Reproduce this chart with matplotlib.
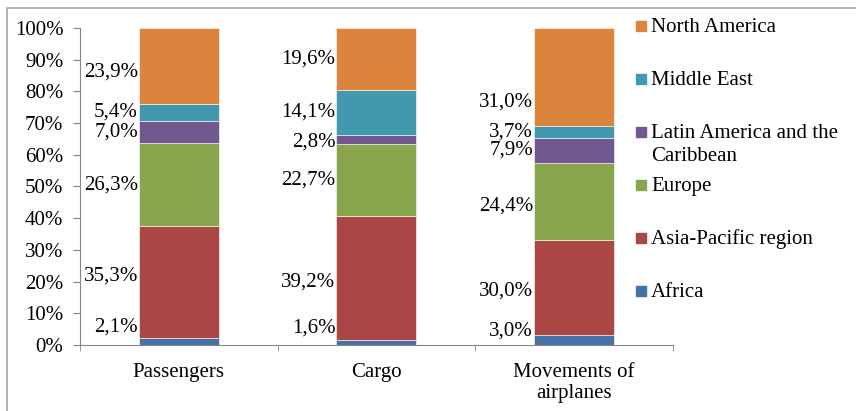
import matplotlib.pyplot as plt
from matplotlib.patches import Rectangle
import numpy as np

plt.rcParams['font.family'] = ['Liberation Serif', 'DejaVu Serif']
plt.rcParams['font.size'] = 15

categories = ['Passengers', 'Cargo', 'Movements of\nairplanes']
regions = ['Africa', 'Asia-Pacific region', 'Europe',
           'Latin America and the\nCaribbean', 'Middle East', 'North America']
africa = [2.1, 1.6, 3.0]
asia_pacific = [35.3, 39.2, 30.0]
europe = [26.3, 22.7, 24.4]
latin_america = [7.0, 2.8, 7.9]
middle_east = [5.4, 14.1, 3.7]
north_america = [23.9, 19.6, 31.0]

colors = ['#4572A7', '#AA4643', '#89A54E', '#71588F', '#4198AF', '#DB843D']
series = [africa, asia_pacific, europe, latin_america, middle_east, north_america]

# label nudges (in % units) where excel moved labels off the centre
nudge = {(0, 0): 4.5, (0, 1): 4.5, (0, 2): 3.0, (1, 0): 2.0, (1, 1): -1.5,
         (1, 2): -1.0, (5, 0): -2.0, (5, 2): -8.0, (3, 1): -1.0, (2, 2): -1.5}

fig = plt.figure(figsize=(8.56, 4.11), dpi=100)
ax = fig.add_axes([0.0935, 0.1606, 0.6925, 0.7713])

x = np.arange(len(categories))
bottom = np.zeros(len(categories))
for i, vals in enumerate(series):
    vals = np.array(vals)
    ax.bar(x, vals, 0.405, bottom=bottom, color=colors[i],
           edgecolor='white', linewidth=0.4)
    for j in range(len(categories)):
        yc = bottom[j] + vals[j] / 2 + nudge.get((i, j), 0)
        ax.text(x[j] - 0.207, yc, f'{vals[j]:.1f}%'.replace('.', ','),
                ha='right', va='center', fontsize=15)
    bottom += vals

ax.set_xlim(-0.5, len(categories) - 0.5)
ax.set_ylim(0, 100)
ax.set_yticks(np.arange(0, 101, 10))
ax.set_yticklabels([f'{v}%' for v in range(0, 101, 10)], fontsize=15)
ax.set_xticks(x)
ax.set_xticklabels(categories, fontsize=15, linespacing=1.12)
ax.set_xticks(np.arange(-0.5, len(categories), 1), minor=True)
ax.tick_params(axis='x', which='major', length=0, pad=13)
ax.tick_params(axis='x', which='minor', length=4, color='#868686')
ax.tick_params(axis='y', length=5, color='#868686', pad=7)
for s in ['top', 'right']:
    ax.spines[s].set_visible(False)
for s in ['left', 'bottom']:
    ax.spines[s].set_color('#868686')

# legend drawn by hand, evenly spaced like excel
W, H = 856, 411
ys = [26, 79, 132, 185, 238, 291]
for k, idx in enumerate(range(len(regions) - 1, -1, -1)):
    yp = ys[k]
    fig.patches.append(Rectangle((636 / W, 1 - (yp + 5) / H), 10 / W, 10 / H,
                                 transform=fig.transFigure,
                                 color=colors[idx]))
    for ln, line in enumerate(regions[idx].split('\n')):
        fig.text(651 / W, 1 - (yp + 6 + ln * 23) / H, line, ha='left',
                 va='baseline', fontsize=15)

# chart border (top and left visible)
fig.patches.append(Rectangle((7 / W, -0.05), 1.1, 1 - 8 / H + 0.05,
                             transform=fig.transFigure, fill=False,
                             edgecolor='#A6A6A6', linewidth=1.2))

fig.savefig('out.png', dpi=100)
